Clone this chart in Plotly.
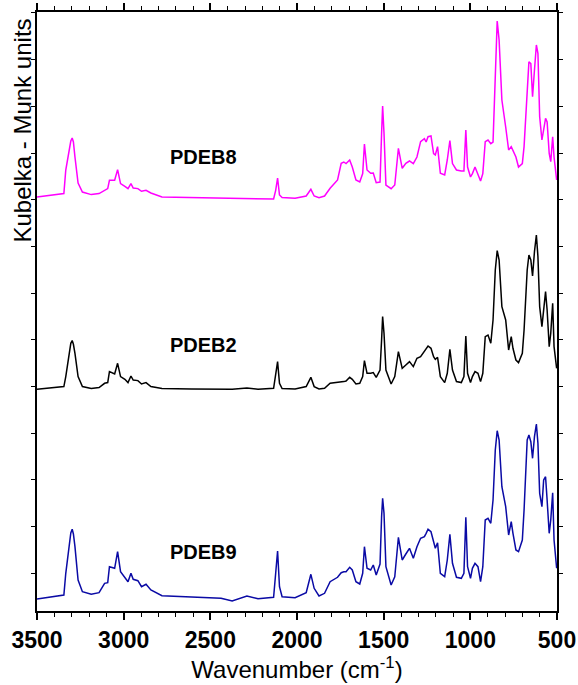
import plotly.graph_objects as go

# Shared wavenumber grid (cm-1), descending
wavenumber = [
    3500, 3345, 3334, 3313, 3305, 3297, 3290, 3281, 3263, 3238, 3187, 3142,
    3110, 3092, 3082, 3052, 3035, 3018, 2993, 2975, 2958, 2945,
    2918, 2897, 2871, 2843, 2779, 2609, 2438, 2374, 2289, 2225,
    2135, 2123, 2112, 2101, 2086, 2011, 1947, 1920, 1901, 1873,
    1841, 1809, 1766, 1745, 1730, 1717, 1696, 1681, 1660, 1638,
    1621, 1611, 1596, 1575, 1560, 1543, 1521, 1512, 1506, 1498,
    1487, 1457, 1436, 1415, 1393, 1372, 1351, 1329, 1308, 1287,
    1265, 1255, 1244, 1227, 1212, 1202, 1189, 1173, 1148, 1133,
    1118, 1103, 1080, 1052, 1037, 1026, 1016, 999, 988, 973,
    956, 941, 928, 914, 898, 882, 869, 856, 845, 834,
    818, 796, 779, 764, 754, 737, 722, 700, 690, 672,
    662, 651, 641, 630, 619, 610, 600, 587, 577, 566,
    557, 545, 536, 525, 517, 502,
]

# Kubelka-Munk intensity above each sample's own baseline
km_pdeb8 = [
    0, 3.4, 27, 47, 56, 59, 55, 40, 14, 5, 2.4, 3.4,
    6.7, 8.4, 16.7, 16.7, 27.4, 13.4, 10.7, 8.4, 13.4, 9,
    8.4, 5.7, 6.7, 4, 0, -0.6, -1.6, -1.8, -1.9, -2,
    -2, 6.7, 19, 2, -0.6, -1.3, 1, 7.7, 1, -0.7,
    1, 8.7, 17, 33.7, 35, 33.4, 37, 30, 17, 15,
    23.4, 53, 27, 23.7, 24, 14.3, 15, 63.7, 91, 63.7,
    12, 8.3, 12, 48.7, 28.7, 33.7, 36, 33.4, 40, 55.3,
    58.4, 55, 60.3, 61, 43.4, 42, 50.4, 23.7, 22, 37,
    56.4, 33.4, 27, 26, 26, 67, 30, 20, 23.4, 30,
    23.4, 16, 23.4, 55.3, 57, 53.4, 55, 130, 176, 157,
    97, 70, 47, 50.4, 47, 40, 30, 33.4, 50.4, 113.7,
    135.3, 133.4, 100.3, 127, 152, 143.7, 80.3, 57, 67, 78.7,
    75, 43.7, 35.3, 60.3, 40, 17,
]

km_pdeb2 = [
    0, 2.7, 12.7, 36, 46, 48.7, 45, 36, 12.7, 2.7, 0.7, 1.7,
    6, 6.7, 17.7, 15.3, 26, 12.7, 10, 6.7, 13.3, 9.3,
    8.7, 5.3, 6.7, 2.7, 0.7, 0.3, 0, 0, 1.3, 0,
    1, 12.7, 27.7, 6, 0.7, 0.3, 2.7, 12, 2.7, 0.3,
    1, 6, 6.7, 7.7, 7.7, 8.3, 12, 10, 5.3, 6,
    12.7, 28.7, 16, 16, 16.7, 12, 19.3, 49.3, 72.7, 56,
    19.3, 5.3, 12.7, 37.7, 21, 24.3, 27.7, 22.7, 31, 32.7,
    37.7, 41, 43.3, 41, 32.7, 30, 32, 12.7, 6.7, 16,
    40, 19.3, 7.7, 6.7, 12.7, 53.3, 16, 6.7, 12.7, 17.7,
    16, 7.7, 16, 52.7, 54.3, 46, 69.3, 119.3, 138.7, 129.3,
    82.7, 69.3, 39.3, 52.7, 41, 29.3, 26.7, 36, 59.3, 119.3,
    134.3, 129.3, 113.3, 137.7, 154.3, 132.7, 82.7, 62.7, 82.7, 97.7,
    79.3, 42.7, 56, 86, 42.7, 21,
]

km_pdeb9 = [
    0, 4, 25.7, 57.3, 66, 69.7, 65, 52.3, 19, 7.3, 4.7, 6.3,
    15.7, 16.3, 32.3, 30.7, 47.3, 27.3, 21.7, 17.3, 25.7, 19.7,
    18.3, 12.3, 14.7, 9, 3.3, 1.7, 0.7, -2, 3, 0.3,
    1.7, 25.7, 48, 12.3, 2.3, 1.3, 6.3, 24.7, 10.7, 3,
    5.7, 17.3, 21.7, 26.3, 27.3, 27.3, 31.7, 29, 17.3, 15,
    25.7, 52.3, 30.7, 29, 34, 24, 35, 82.3, 100.7, 85.7,
    32.3, 14, 22.3, 61.7, 39, 45, 50.7, 40.7, 52.3, 60.7,
    62.3, 65.7, 69.7, 67.3, 55.7, 50.7, 56.3, 25.7, 22.3, 39,
    64.7, 35.7, 21.7, 20.7, 25.7, 81.7, 32.3, 20.7, 30.7, 35.7,
    32.3, 17.3, 32.3, 79, 80.7, 75.7, 99, 149, 168.3, 159,
    112.3, 92.3, 64, 77.3, 65.7, 49, 47.3, 59, 89, 159,
    164, 157.3, 140.7, 162.3, 175, 155.7, 105.7, 92.3, 119, 122.3,
    99, 65.7, 79, 106.3, 59, 30.7,
]

samples = ["PDEB8", "PDEB2", "PDEB9"]
series = [km_pdeb8, km_pdeb2, km_pdeb9]
offsets = [414, 221.7, 12]           # vertical stacking of the spectra
colors = ["#FF00FF", "#000000", "#0A0AA5"]
label_x = 2538
label_y = [454.3, 266, 58.7]

FONT = "Liberation Sans, Arial, sans-serif"

fig = go.Figure()
for name, vals, off, col in zip(samples, series, offsets, colors):
    fig.add_trace(go.Scatter(
        x=wavenumber,
        y=[v + off for v in vals],
        mode="lines",
        line=dict(color=col, width=1.5),
        name=name,
        showlegend=False,
    ))

for name, ly in zip(samples, label_y):
    fig.add_annotation(
        x=label_x, y=ly, xref="x", yref="y",
        text="<b>%s</b>" % name, showarrow=False,
        font=dict(family=FONT, size=20, color="black"),
    )

# Rotated y-axis title, placed high on the left side
fig.add_annotation(
    x=-0.027, y=0.802, xref="paper", yref="paper",
    text="Kubelka - Munk units", textangle=-90, showarrow=False,
    xanchor="center", yanchor="middle",
    font=dict(family=FONT, size=24, color="black"),
)

fig.update_layout(
    width=578, height=685,
    margin=dict(l=37, r=21, t=12, b=74, autoexpand=False),
    plot_bgcolor="white", paper_bgcolor="white",
    xaxis=dict(
        range=[3500, 500],
        automargin=False,
        tickvals=[3500, 3000, 2500, 2000, 1500, 1000, 500],
        ticktext=["<b>3500</b>", "<b>3000</b>", "<b>2500</b>", "<b>2000</b>",
                  "<b>1500</b>", "<b>1000</b>", "<b>500</b>"],
        ticks="outside", ticklen=7, tickwidth=1.5, tickcolor="black",
        minor=dict(dtick=100, tick0=500, ticks="outside", ticklen=4,
                   tickwidth=1, tickcolor="black"),
        showline=True, linecolor="black", linewidth=2, mirror="allticks",
        showgrid=False, zeroline=False,
        tickfont=dict(family=FONT, size=23, color="black"),
        title=dict(text="Wavenumber (cm<sup>-1</sup>)",
                   font=dict(family=FONT, size=24, color="black"),
                   standoff=8),
    ),
    yaxis=dict(
        range=[0, 599],
        automargin=False,
        tick0=37.7, dtick=46.7,
        ticks="outside", ticklen=4, tickwidth=1, tickcolor="black",
        showticklabels=False,
        showline=True, linecolor="black", linewidth=2, mirror="allticks",
        showgrid=False, zeroline=False,
    ),
)

fig.write_html("out.html")
